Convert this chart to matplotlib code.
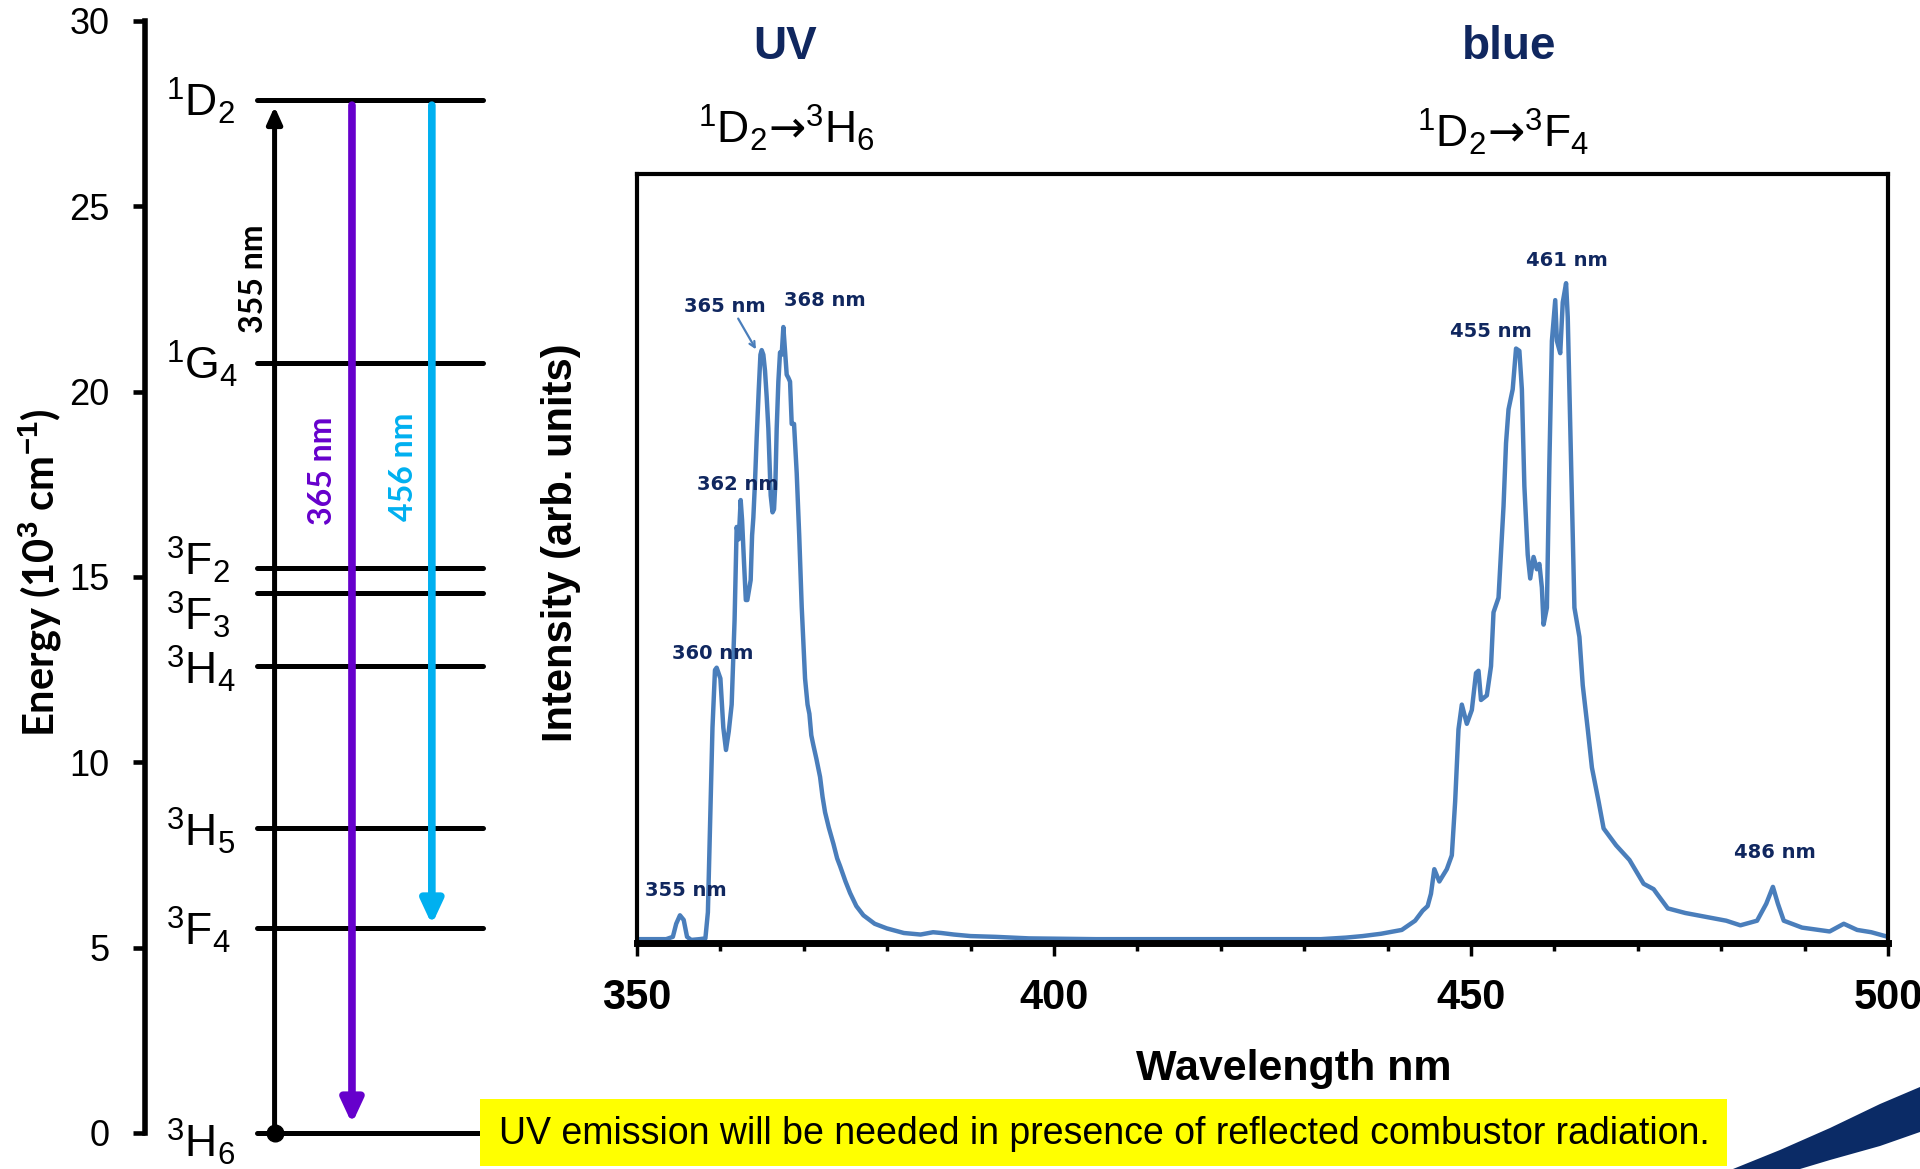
import matplotlib.pyplot as plt
from matplotlib.patches import Rectangle, Polygon
from matplotlib.ticker import MultipleLocator

plt.rcParams['font.family'] = ['Liberation Sans', 'DejaVu Sans']
plt.rcParams['mathtext.fontset'] = 'custom'
plt.rcParams['mathtext.rm'] = 'Liberation Sans'
plt.rcParams['mathtext.it'] = 'Liberation Sans:italic'
plt.rcParams['mathtext.bf'] = 'Liberation Sans:bold'

NAVY = '#10275F'
LINE_BLUE = '#4A7EBB'
PURPLE = '#6600CC'
CYAN = '#00B0F0'

# Tm3+ energy levels, 10^3 cm^-1
level_labels = [r'$^1$D$_2$', r'$^1$G$_4$', r'$^3$F$_2$', r'$^3$F$_3$',
                r'$^3$H$_4$', r'$^3$H$_5$', r'$^3$F$_4$', r'$^3$H$_6$']
level_energy = [27.88, 20.78, 15.23, 14.57, 12.59, 8.23, 5.52, 0.0]
label_offset = [-0.45, -0.45, -0.2, -1.0, -0.5, -0.5, -0.45, -0.65]

# emission spectrum
wavelength = [350.0, 353.5, 354.3, 354.7, 355.15, 355.6, 356.0, 356.5, 357.5, 358.2,
              358.5, 358.75, 359.05, 359.35, 359.55, 360.0, 360.35, 360.67, 361.0, 361.35,
              361.7, 361.95, 362.2, 362.43, 362.6, 362.83, 363.05, 363.23, 363.45, 363.63,
              363.8, 363.95, 364.15, 364.35, 364.6, 364.8, 364.95, 365.15, 365.35, 365.55,
              365.75, 366.03, 366.25, 366.43, 366.6, 366.75, 366.95, 367.15, 367.35, 367.55,
              367.75, 367.95, 368.15, 368.35, 368.55, 368.83, 369.15, 369.45, 369.75, 370.15,
              370.45, 370.67, 370.9, 371.15, 371.5, 371.95, 372.25, 372.55, 373.0, 373.55,
              374.0, 374.35, 375.0, 375.55, 376.3, 377.15, 378.5, 379.95, 382.0, 384.0,
              385.5, 386.5, 388.0, 390.0, 393.0, 397.0, 405.0, 420.0, 432.0, 435.0,
              437.0, 439.2, 441.7, 443.3, 444.2, 444.8, 445.2, 445.6, 446.2, 447.1,
              447.7, 448.1, 448.5, 448.9, 449.5, 450.1, 450.6, 450.9, 451.2, 451.9,
              452.4, 452.7, 453.3, 453.9, 454.2, 454.5, 455.0, 455.4, 455.8, 456.1,
              456.4, 456.8, 457.1, 457.5, 457.9, 458.2, 458.5, 458.7, 459.1, 459.4,
              459.7, 460.1, 460.3, 460.7, 461.0, 461.4, 461.6, 462.0, 462.4, 463.0,
              463.4, 464.0, 464.5, 465.3, 465.9, 467.4, 469.0, 470.7, 471.9, 472.3,
              473.6, 475.7, 478.6, 480.6, 482.3, 484.3, 485.4, 486.2, 486.8, 487.5,
              489.7, 493.0, 494.7, 496.3, 498.0, 500.0]
intensity = [0.005, 0.005, 0.008, 0.025, 0.036, 0.030, 0.008, 0.004, 0.005, 0.006,
             0.040, 0.147, 0.280, 0.355, 0.358, 0.344, 0.280, 0.251, 0.275, 0.310,
             0.420, 0.541, 0.525, 0.576, 0.550, 0.495, 0.446, 0.446, 0.460, 0.472,
             0.530, 0.553, 0.600, 0.657, 0.720, 0.765, 0.771, 0.765, 0.744, 0.710,
             0.669, 0.582, 0.560, 0.564, 0.600, 0.669, 0.730, 0.768, 0.765, 0.801,
             0.770, 0.739, 0.735, 0.730, 0.675, 0.675, 0.611, 0.530, 0.437, 0.344,
             0.310, 0.298, 0.270, 0.257, 0.240, 0.216, 0.190, 0.170, 0.150, 0.129,
             0.110, 0.100, 0.080, 0.065, 0.048, 0.036, 0.025, 0.019, 0.013, 0.011,
             0.014, 0.013, 0.011, 0.009, 0.008, 0.006, 0.005, 0.005, 0.005, 0.007,
             0.009, 0.012, 0.017, 0.029, 0.042, 0.048, 0.064, 0.096, 0.080, 0.096,
             0.114, 0.184, 0.278, 0.310, 0.285, 0.303, 0.351, 0.354, 0.316, 0.322,
             0.360, 0.430, 0.449, 0.568, 0.650, 0.694, 0.720, 0.773, 0.770, 0.720,
             0.594, 0.505, 0.474, 0.502, 0.486, 0.493, 0.462, 0.414, 0.436, 0.625,
             0.783, 0.836, 0.783, 0.767, 0.833, 0.858, 0.814, 0.625, 0.436, 0.398,
             0.335, 0.278, 0.228, 0.184, 0.149, 0.127, 0.108, 0.077, 0.070, 0.064,
             0.045, 0.039, 0.033, 0.029, 0.023, 0.029, 0.051, 0.073, 0.051, 0.029,
             0.020, 0.015, 0.025, 0.017, 0.014, 0.008]

peak_labels = ['355 nm', '360 nm', '362 nm', '365 nm', '368 nm', '455 nm', '461 nm', '486 nm']
peak_text_x = [355.9, 359.1, 362.1, 360.55, 372.5, 452.4, 461.5, 486.4]
peak_text_y = [0.068, 0.377, 0.596, 0.828, 0.836, 0.795, 0.888, 0.118]

fig = plt.figure(figsize=(19.2, 11.69), dpi=100)

# ---- energy level diagram ----
axE = fig.add_axes([145 / 1920, 36 / 1169, 355 / 1920, 1112 / 1169])
axE.patch.set_visible(False)
axE.set_xlim(0, 1)
axE.set_ylim(0, 30)
for s in ['top', 'right', 'bottom']:
    axE.spines[s].set_visible(False)
axE.spines['left'].set_linewidth(4)
axE.set_xticks([])
axE.set_yticks(range(0, 31, 5))
axE.tick_params(axis='y', direction='out', length=8.5, width=3.3, pad=17, labelsize=26)

for lab, e, off in zip(level_labels, level_energy, label_offset):
    axE.plot([0.315, 0.952], [e, e], color='black', lw=3.6, solid_capstyle='round', clip_on=False)
    axE.text(0.059, e + off, lab, fontsize=32, ha='left', va='baseline')


def level_arrow(x, y0, y1, color, lw, hw, hl):
    axE.annotate('', xy=(x, y1), xytext=(x, y0), annotation_clip=False,
                 arrowprops=dict(arrowstyle=f'-|>,head_width={hw},head_length={hl}',
                                 color=color, lw=lw, shrinkA=0, shrinkB=0,
                                 mutation_scale=10))


level_arrow(0.365, 0.0, 27.69, 'black', 3.6, 0.45, 1.0)
level_arrow(0.583, 27.73, 0.25, PURPLE, 5.5, 0.65, 1.4)
level_arrow(0.808, 27.73, level_energy[6] + 0.1, CYAN, 5.5, 0.65, 1.4)
axE.plot(0.365, 0.0, 'o', ms=12, color='black', clip_on=False, zorder=5)

lato = ['Lato', 'DejaVu Sans']
axE.text(0.307, 23.04, '355 nm', rotation=90, ha='center', va='center',
         fontsize=23, fontweight='bold', family=lato, color='black')
axE.text(0.501, 17.86, '365 nm', rotation=90, ha='center', va='center',
         fontsize=23, fontweight='bold', family=lato, color=PURPLE)
axE.text(0.727, 17.97, '456 nm', rotation=90, ha='center', va='center',
         fontsize=23, fontweight='bold', family=lato, color=CYAN)

fig.text(40 / 1920, 1 - 573 / 1169, r'Energy (10$^{\mathbf{3}}$ cm$^{\mathbf{-1}}$)',
         rotation=90, ha='center', va='center', fontsize=30, fontweight='bold', family=lato)

# ---- emission spectrum ----
axS = fig.add_axes([637 / 1920, 226 / 1169, 1251 / 1920, 769 / 1169])
axS.plot(wavelength, intensity, color=LINE_BLUE, lw=3.2, solid_joinstyle='round')
axS.set_xlim(350, 500)
axS.set_ylim(0, 1)
axS.set_yticks([])
axS.set_xticks([350, 400, 450, 500])
axS.xaxis.set_minor_locator(MultipleLocator(10))
axS.tick_params(axis='x', which='major', direction='out', length=9, width=2.5, pad=16, labelsize=30)
axS.tick_params(axis='x', which='minor', direction='out', length=6, width=2.5)
for lab in axS.get_xticklabels():
    lab.set_fontweight('bold')
for s in axS.spines.values():
    s.set_linewidth(3)
axS.spines['bottom'].set_linewidth(5)

for lab, x, y in zip(peak_labels, peak_text_x, peak_text_y):
    axS.text(x, y, lab, ha='center', va='center', color=NAVY, fontsize=14,
             fontweight='bold', family='DejaVu Sans')
axS.annotate('', xy=(364.26, 0.772), xytext=(362.13, 0.812),
             arrowprops=dict(arrowstyle='->', color=LINE_BLUE, lw=1.6, shrinkA=0, shrinkB=0))

fig.text(1294 / 1920, 1 - 1069 / 1169, 'Wavelength nm', ha='center', va='center',
         fontsize=31, fontweight='bold')
fig.text(561 / 1920, 1 - 543 / 1169, 'Intensity (arb. units)', rotation=90,
         ha='center', va='center', fontsize=30, fontweight='bold')

# band titles
fig.text(785 / 1920, 1 - 47 / 1169, 'UV', ha='center', va='center', fontsize=33,
         fontweight='bold', color=NAVY)
fig.text(1509 / 1920, 1 - 47 / 1169, 'blue', ha='center', va='center', fontsize=33,
         fontweight='bold', color=NAVY)
# letters in math mode (Liberation Sans), the arrow from DejaVu Sans
fig.text(786 / 1920, 1 - 128 / 1169, r'$^1\mathrm{D}_2$→$^3\mathrm{H}_6$', ha='center',
         va='center', fontsize=32, family='DejaVu Sans')
fig.text(1503 / 1920, 1 - 132 / 1169, r'$^1\mathrm{D}_2$→$^3\mathrm{F}_4$', ha='center',
         va='center', fontsize=32, family='DejaVu Sans')

# note box
fig.add_artist(Rectangle((480 / 1920, 3 / 1169), 1247 / 1920, 67 / 1169,
                         transform=fig.transFigure, facecolor='#FFFF00', edgecolor='none'))
fig.text(1104 / 1920, 1 - 1134 / 1169,
         'UV emission will be needed in presence of reflected combustor radiation.',
         ha='center', va='center', fontsize=27)

# corner swoosh
swoosh = [(1733, 1169), (1780, 1150), (1830, 1128), (1880, 1104), (1920, 1087),
          (1920, 1132), (1880, 1146), (1830, 1160), (1800, 1169)]
fig.add_artist(Polygon([(x / 1920, 1 - y / 1169) for x, y in swoosh],
                       transform=fig.transFigure, facecolor='#0B2B66', edgecolor='none'))

fig.savefig('out.png', dpi=100)
